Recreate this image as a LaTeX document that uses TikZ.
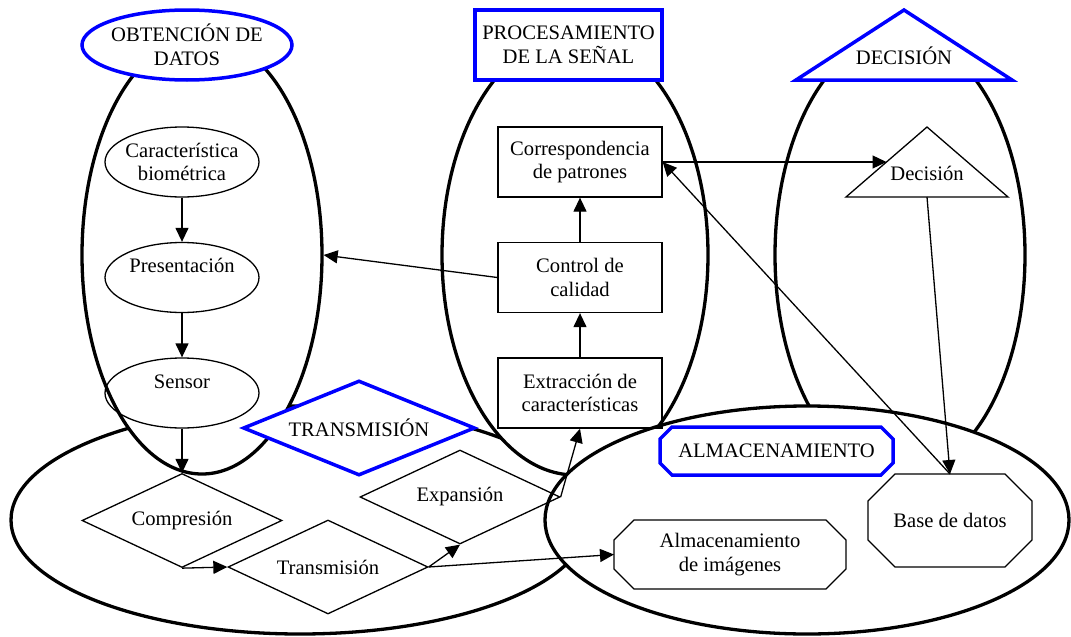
\documentclass[tikz,border=0pt]{standalone}
\usepackage{fontspec}
\setmainfont{Liberation Serif}
\usetikzlibrary{shapes.geometric,arrows.meta}
\definecolor{lblue}{RGB}{0,0,255}
\newcommand\octframe[3]{% style, node name, chamfer
  \path[#1] ([xshift=#3]#2.north west) -- ([xshift=-#3]#2.north east)
    -- ([yshift=-#3]#2.north east) -- ([yshift=#3]#2.south east)
    -- ([xshift=-#3]#2.south east) -- ([xshift=#3]#2.south west)
    -- ([yshift=#3]#2.south west) -- ([yshift=-#3]#2.north west) -- cycle;}
\begin{document}
\begin{tikzpicture}[x=1pt,y=-1pt,
  font=\fontsize{20.6pt}{23.5pt}\selectfont,
  big/.style={draw=black, line width=3.3pt, fill=white, ellipse, inner sep=0pt},
  lbl/.style={draw=lblue, line width=3.5pt, fill=white, inner sep=0pt, align=center, line join=miter},
  lblframe/.style={draw=lblue, line width=3.5pt, fill=white, line join=miter},
  inn/.style={draw=black, line width=1.3pt, inner sep=0pt, align=center},
  inframe/.style={draw=black, line width=1.3pt, line join=miter},
  holder/.style={rectangle, inner sep=0pt, outer sep=0pt, align=center},
  inell/.style={inn, ellipse, inner sep=-6pt, minimum width=154pt, minimum height=70pt},
  inbox/.style={inn, rectangle, minimum width=164pt, minimum height=70pt},
  india/.style={inn, diamond, aspect=2.13, minimum width=200pt, minimum height=94pt},
  arr/.style={line width=1.3pt, -{Triangle[length=14pt,width=13pt]}}
]
\useasboundingbox (0,0) rectangle (1071,637);

% large group ellipses
\node[big, minimum width=578pt, minimum height=228pt] (trE) at (300,520) {};
\node[big, minimum width=240pt, minimum height=438pt] (obE) at (202,255) {};
\node[big, minimum width=266pt, minimum height=440pt] (prE) at (575,255) {};
\node[big, minimum width=250pt, minimum height=440pt] (deE) at (900,255) {};
\node[big, minimum width=524pt, minimum height=228pt] (alE) at (807,520) {};

% blue group labels
\node[lbl, ellipse, minimum width=210pt, minimum height=70pt, inner sep=-8pt] (obL) at (187,45) {OBTENCIÓN DE\\DATOS};
\node[lbl, rectangle, minimum width=187pt, minimum height=70pt] (prL) at (568.5,45) {PROCESAMIENTO\\DE LA SEÑAL};
\path[lblframe] (904,10) coordinate (deLA) -- (1012,80) coordinate (deLR) -- (796,80) coordinate (deLL) -- cycle;
\node[inner sep=0pt] (deL) at (904,56) {DECISIÓN};
\node[lbl, diamond, aspect=2.44, minimum width=232pt, minimum height=95pt] (trL) at (359,428) {TRANSMISIÓN};
\node[holder, minimum width=233pt, minimum height=48pt] (alL) at (776.5,451) {};
\octframe{lblframe}{alL}{12pt}
\node[inner sep=0pt] (alLT) at (alL) {ALMACENAMIENTO};

% obtención de datos
\node[inell] (car) at (182,162) {Característica\\biométrica};
\node[inell] (pres) at (182,277.5) {Presentación\\~};
\node[inell] (sens) at (182,393) {Sensor\\~};

% procesamiento
\node[inbox] (corr) at (580,162) {Correspondencia\\de patrones};
\node[inbox] (ctrl) at (580,277.5) {Control de\\calidad};
\node[inbox] (ext) at (580,393) {Extracción de\\características};

% decisión
\path[inframe] (927,127) coordinate (decA) -- (1008,197) coordinate (decR) -- (846,197) coordinate (decL) -- cycle;
\node[inner sep=0pt] (dec) at (927,173) {Decisión};
\coordinate (decW) at (886.5,162);
\coordinate (decS) at (927,197);

% transmisión
\node[india] (comp) at (182,520.5) {Compresión};
\node[india] (trn) at (328,567) {Transmisión};
\node[india] (exp) at (460,497) {Expansión};

% almacenamiento
\node[holder, minimum width=164pt, minimum height=93pt] (base) at (950,520.5) {Base de datos};
\octframe{inframe}{base}{27pt}
\node[holder, minimum width=232pt, minimum height=69pt] (img) at (730,554.5) {Almacenamiento\\de imágenes};
\octframe{inframe}{img}{20pt}

% connectors
\draw[arr] (car) -- (pres);
\draw[arr] (pres) -- (sens);
\draw[arr] (sens) -- (comp.north);
\draw[arr] (comp.south) -- (trn.west);
\draw[arr] (trn.east) -- (exp.south);
\draw[arr] (exp.east) -- (ext.south);
\draw[arr] (trn.east) -- (img.west);
\draw[arr] (ext) -- (ctrl);
\draw[arr] (ctrl) -- (corr);
\draw[arr] (ctrl.west) -- (obE.east);
\draw[arr] (corr.east) -- (decW);
\draw[arr] (base.north) -- (corr.east);
\draw[arr] (decS) -- (base.north);
\end{tikzpicture}
\end{document}
